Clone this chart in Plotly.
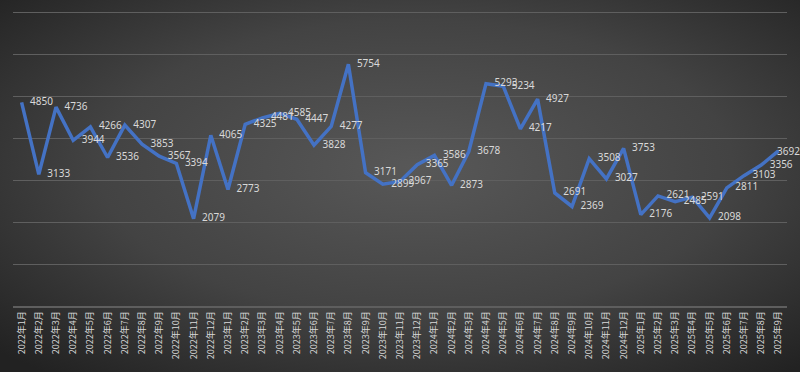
import base64
import plotly.graph_objects as go

months = [f"{y}年{m}月" for y in (2022, 2023, 2024) for m in range(1, 13)] + [f"2025年{m}月" for m in range(1, 10)]

values = [4850, 3133, 4736, 3944, 4266, 3536, 4307, 3853, 3567, 3394, 2079, 4065,
          2773, 4325, 4481, 4585, 4447, 3828, 4277, 5754, 3171, 2899, 2967, 3365,
          3586, 2873, 3678, 5293, 5234, 4217, 4927, 2691, 2369, 3508, 3027, 3753,
          2176, 2621, 2485, 2591, 2098, 2811, 3103, 3356, 3692]

y_ticks = [0, 1000, 2000, 3000, 4000, 5000, 6000, 7000]

W, H = 800, 372
ml, mr, mt, mb = 13, 13, 8, 66
pw, ph = W - ml - mr, H - mt - mb
y_top = 7000 * ph / 294.0

svg = (f"<svg xmlns='http://www.w3.org/2000/svg' width='{W}' height='{H}' viewBox='0 0 {W} {H}' preserveAspectRatio='none'>"
       "<defs><radialGradient id='g' cx='0.52' cy='0.45' r='0.72'>"
       "<stop offset='0' stop-color='#585858'/>"
       "<stop offset='0.55' stop-color='#434343'/>"
       "<stop offset='1' stop-color='#222222'/>"
       "</radialGradient></defs>"
       f"<rect width='{W}' height='{H}' fill='url(#g)'/></svg>")
src = "data:image/svg+xml;base64," + base64.b64encode(svg.encode()).decode()

labels = [str(v) for v in values]
label_font = dict(family="Noto Sans, Noto Sans CJK SC", size=10, color="#d9d9d9")

fig = go.Figure()
fig.add_trace(go.Scatter(
    x=months, y=values, mode="lines+markers+text",
    text=labels[:-1] + [""], textposition="middle right",
    textfont=label_font,
    line=dict(color="#4472C4", width=3.5),
    marker=dict(size=12, color="rgba(0,0,0,0)"),
    cliponaxis=False, hoverinfo="x+y",
))
# last label kept inside the chart, as the reference does
fig.add_annotation(x=months[-1], y=values[-1], text=labels[-1], showarrow=False,
                   xanchor="left", yanchor="middle", xshift=-3, font=label_font)

fig.update_layout(
    width=W, height=H,
    margin=dict(l=ml, r=mr, t=mt, b=mb, autoexpand=False),
    paper_bgcolor="#333333", plot_bgcolor="rgba(0,0,0,0)",
    showlegend=False,
    font=dict(family="Noto Sans CJK SC", color="#d9d9d9"),
    images=[dict(source=src, xref="paper", yref="paper",
                 x=-ml / pw, y=1 + mt / ph, sizex=W / pw, sizey=H / ph,
                 xanchor="left", yanchor="top", sizing="stretch", layer="below")],
)
fig.update_xaxes(
    type="category", range=[-0.5, len(months) - 0.5],
    tickmode="array", tickvals=months, ticktext=months,
    tickangle=-90, tickfont=dict(family="Noto Sans CJK SC", size=9, color="#d9d9d9"),
    showgrid=False, showline=True, linecolor="#5e5e5e", linewidth=1.5,
    ticks="", zeroline=False, automargin=False,
)
fig.update_yaxes(
    range=[0, y_top], tickvals=y_ticks, showticklabels=False,
    showgrid=True, gridcolor="#5f5f5f", gridwidth=1, zeroline=False, automargin=False,
)

fig.write_html("out.html", config={"displayModeBar": False},
               post_script="document.body.style.margin='0';document.body.style.overflow='hidden';document.body.style.background='#222';")
